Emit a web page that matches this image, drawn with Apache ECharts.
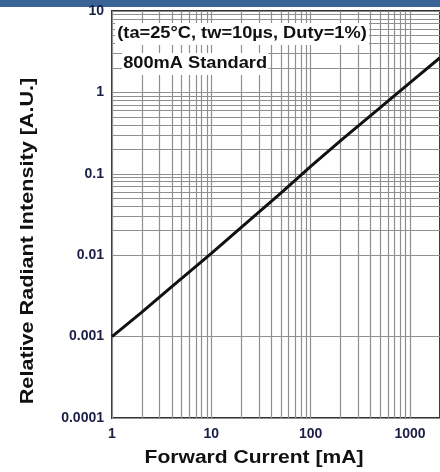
<!DOCTYPE html>
<html>
<head>
<meta charset="utf-8">
<script src="https://cdn.jsdelivr.net/npm/echarts@6/dist/echarts.min.js"></script>
<style>
  html, body { margin: 0; padding: 0; background: #fff; }
  #chart { width: 440px; height: 472px; }
</style>
</head>
<body>
<div id="chart"></div>
<script>
// Forward current [mA] and relative radiant intensity [A.U.]
const currentMA = [1, 2, 4, 10, 20, 50, 100, 200, 500, 1000, 2000];
const intensity = [0.001, 0.002, 0.0041, 0.0105, 0.022, 0.058, 0.123, 0.256, 0.65, 1.32, 2.67];

// Decade tick labels
const xTickValues = [1, 10, 100, 1000];
const xTickLabels = ['1', '10', '100', '1000'];
const yTickValues = [0.0001, 0.001, 0.01, 0.1, 1, 10];
const yTickLabels = ['0.0001', '0.001', '0.01', '0.1', '1', '10'];

// Intermediate log grid values (2..9 of each decade)
const xMinorGrid = [2, 3, 4, 5, 6, 7, 8, 9, 20, 30, 40, 50, 60, 70, 80, 90,
  200, 300, 400, 500, 600, 700, 800, 900];
const yMinorGrid = [0.0002, 0.0003, 0.0004, 0.0005, 0.0006, 0.0007, 0.0008, 0.0009,
  0.002, 0.003, 0.004, 0.005, 0.006, 0.007, 0.008, 0.009,
  0.02, 0.03, 0.04, 0.05, 0.06, 0.07, 0.08, 0.09,
  0.2, 0.3, 0.4, 0.5, 0.6, 0.7, 0.8, 0.9,
  2, 3, 4, 5, 6, 7, 8, 9];

const noteLine1 = '(ta=25°C, tw=10µs, Duty=1%)';
const noteLine2 = '800mA Standard';
const xTitle = 'Forward Current [mA]';
const yTitle = 'Relative Radiant Intensity [A.U.]';

const FONT = '"Liberation Sans", Arial, sans-serif';
const GRID_COLOR = '#8f8f8f';
const TICK_COLOR = '#1a1f45';

function labelFor(values, labels) {
  return function (v) {
    for (let i = 0; i < values.length; i++) {
      if (Math.abs(Math.log10(v) - Math.log10(values[i])) < 1e-6) return labels[i];
    }
    return '';
  };
}

const chart = echarts.init(document.getElementById('chart'), null, { renderer: 'canvas' });

chart.setOption({
  animation: false,
  backgroundColor: '#ffffff',
  grid: {
    left: 112, top: 11, right: -5, bottom: 54,
    show: true, backgroundColor: '#ffffff',
    borderColor: '#333333', borderWidth: 2
  },
  xAxis: {
    type: 'log', logBase: 10, min: 1, max: 2000,
    axisLine: { show: false },
    axisTick: { show: false },
    axisLabel: {
      margin: 9, color: TICK_COLOR, fontFamily: FONT, fontWeight: 'bold', fontSize: 14,
      formatter: labelFor(xTickValues, xTickLabels),
      showMaxLabel: false
    },
    splitLine: { show: true, lineStyle: { color: GRID_COLOR, width: 1.2 } }
  },
  yAxis: {
    type: 'log', logBase: 10, min: 0.0001, max: 10,
    axisLine: { show: false },
    axisTick: { show: false },
    axisLabel: {
      margin: 8, color: TICK_COLOR, fontFamily: FONT, fontWeight: 'bold', fontSize: 14,
      formatter: labelFor(yTickValues, yTickLabels)
    },
    splitLine: { show: true, lineStyle: { color: GRID_COLOR, width: 1.2 } }
  },
  series: [
    {
      name: 'minor-grid',
      type: 'line',
      data: [],
      silent: true,
      z: 1,
      markLine: {
        silent: true,
        symbol: 'none',
        animation: false,
        label: { show: false },
        lineStyle: { color: GRID_COLOR, width: 1.2, type: 'solid' },
        emphasis: { disabled: true },
        data: xMinorGrid.map(v => ({ xAxis: v })).concat(yMinorGrid.map(v => ({ yAxis: v })))
      }
    },
    {
      name: 'intensity',
      type: 'line',
      z: 5,
      data: currentMA.map((x, i) => [x, intensity[i]]),
      showSymbol: false,
      smooth: false,
      lineStyle: { color: '#111111', width: 3 },
      clip: true
    }
  ],
  graphic: [
    { type: 'rect', left: 0, top: 0, z: -1, shape: { width: 440, height: 7 }, style: { fill: '#3b6496' } },
    {
      type: 'text', x: 115, y: 23, scaleX: 1.14, z: 10,
      style: {
        text: noteLine1, fontFamily: FONT, fontWeight: 'bold', fontSize: 16, fill: '#111111',
        backgroundColor: '#ffffff', padding: [3, 2, 3, 2]
      }
    },
    {
      type: 'text', x: 122, y: 53, scaleX: 1.14, z: 10,
      style: {
        text: noteLine2, fontFamily: FONT, fontWeight: 'bold', fontSize: 16, fill: '#111111',
        backgroundColor: '#ffffff', padding: [3, 1, 3, 1]
      }
    },
    {
      type: 'text', x: 28, y: 241, rotation: Math.PI / 2, scaleX: 1.2, z: 10,
      style: {
        text: yTitle, fontFamily: FONT, fontWeight: 'bold', fontSize: 18, fill: '#111111',
        align: 'center', verticalAlign: 'middle'
      }
    },
    {
      type: 'text', x: 254, y: 458, scaleX: 1.17, z: 10,
      style: {
        text: xTitle, fontFamily: FONT, fontWeight: 'bold', fontSize: 18, fill: '#111111',
        align: 'center', verticalAlign: 'middle'
      }
    }
  ]
});
</script>
</body>
</html>
